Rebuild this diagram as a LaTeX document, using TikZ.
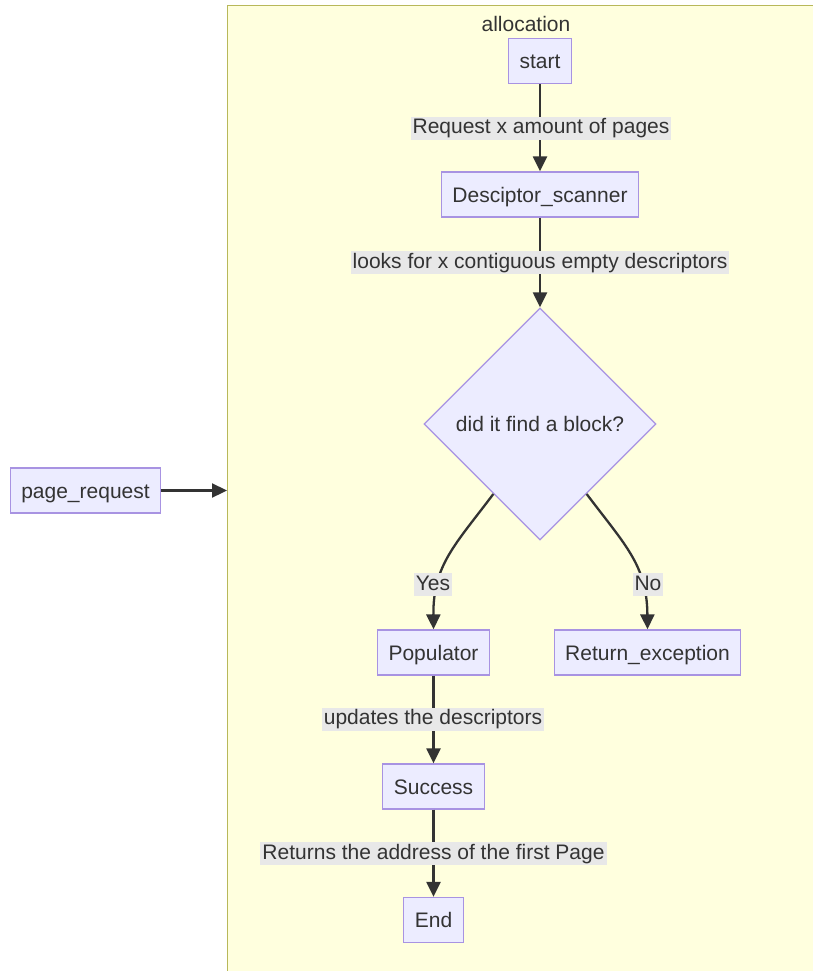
\documentclass[tikz,border=0pt]{standalone}
\usepackage{fontspec}
\setmainfont{Liberation Sans}
\usetikzlibrary{arrows.meta,shapes.geometric,calc}
\definecolor{nodefill}{HTML}{ECECFF}
\definecolor{nodeline}{HTML}{A893E2}
\definecolor{clusterfill}{HTML}{FFFFDE}
\definecolor{clusterline}{HTML}{B8B85A}
\definecolor{edgeline}{HTML}{333333}
\definecolor{labelbg}{HTML}{E8E8E8}
\tikzset{
  every node/.style={text=edgeline, font=\fontsize{21}{25}\selectfont},
  box/.style={draw=nodeline, fill=nodefill, line width=1.3pt, inner xsep=11pt,
    minimum height=45pt, inner ysep=0pt, text height=19pt, text depth=4pt},
  decision/.style={draw=nodeline, fill=nodefill, line width=1.3pt, diamond,
    aspect=1, minimum size=232pt, inner sep=0pt},
  cluster/.style={draw=clusterline, fill=clusterfill, line width=1.3pt,
    minimum width=620pt, minimum height=1000pt, inner sep=0pt},
  flow/.style={draw=edgeline, line width=2.3pt,
    -{Triangle[length=15pt,width=14pt]}},
  elabel/.style={fill=labelbg, inner xsep=2pt, inner ysep=0pt,
    text height=17pt, text depth=6pt},
}
\begin{document}
\begin{tikzpicture}[x=1pt,y=-1pt]
\useasboundingbox (0,0) rectangle (813,971);
\begin{scope}
\clip (0,0) rectangle (813,971);
% subgraph frame
\node[cluster, anchor=north west] (alloc) at (227,5) {};
\end{scope}
\node[text height=16pt, text depth=5pt, inner sep=0pt] (alloclabel) at (526,26) {allocation};

% nodes of the allocation flow
\node[box] (start) at (540,61) {start};
\node[box] (scan) at (540,194.5) {Desciptor\_scanner};
\node[decision] (dec) at (540,424) {did it find a block?};
\node[box] (pop) at (433.5,652.5) {Populator};
\node[box] (exc) at (647.5,652.5) {Return\_exception};
\node[box] (succ) at (433.5,786.5) {Success};
\node[box] (end) at (433.5,920) {End};
\node[box] (preq) at (85.5,490.5) {page\_request};

% connectors
\draw[flow] (start) -- (scan);
\draw[flow] (scan) -- (dec);
\draw[flow] ($(dec.south)!0.4!(dec.west)$) .. controls (455,545) and (433,565) .. (pop.north);
\draw[flow] ($(dec.south)!0.4!(dec.east)$) .. controls (625,545) and (647,565) .. (exc.north);
\draw[flow] (pop) -- (succ);
\draw[flow] (succ) -- (end);
\draw[flow] (preq.east) -- (preq.east -| alloc.west);

% edge labels
\node[elabel] (l1) at (541,128.5) {Request x amount of pages};
\node[elabel] (l2) at (540,262.5) {looks for x contiguous empty descriptors};
\node[elabel] (l3) at (433,584.5) {Yes};
\node[elabel] (l4) at (648,584.5) {No};
\node[elabel] (l5) at (433,719) {updates the descriptors};
\node[elabel] (l6) at (433.5,853.5) {Returns the address of the first Page};
\end{tikzpicture}
\end{document}
